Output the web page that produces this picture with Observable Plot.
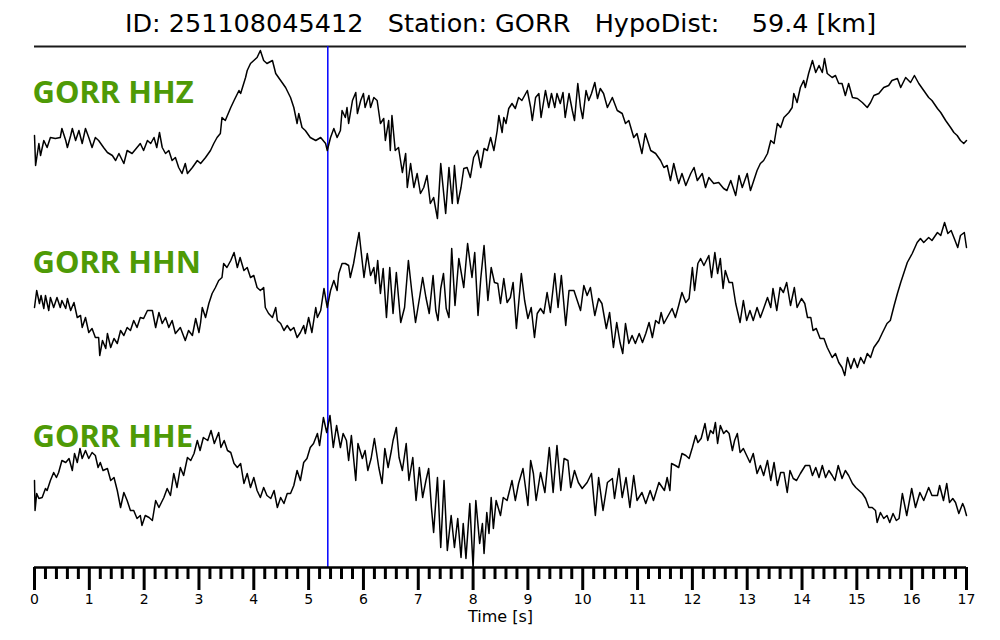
<!DOCTYPE html>
<html><head><meta charset="utf-8">
<script src="https://cdn.jsdelivr.net/npm/d3@7"></script>
<script src="https://cdn.jsdelivr.net/npm/@observablehq/plot@0.6"></script>
<style>
html,body{margin:0;padding:0;background:#fff;}
svg text{white-space:pre;}
</style></head><body><div id="chart"></div>
<script>
const title = "ID: 251108045412   Station: GORR   HypoDist:    59.4 [km]";
const channels = ["GORR HHZ", "GORR HHN", "GORR HHE"];
const pickTime = [5.35];
const xLabel = "Time [s]";
const majorTicks = [0,1,2,3,4,5,6,7,8,9,10,11,12,13,14,15,16,17];

// [time (s), amplitude (relative units)]
const hhz = [[0,-5],[0.02,-35],[0.08,-13],[0.11,-25],[0.17,-10],[0.23,-17],[0.29,-7],[0.38,-8],[0.47,-7],[0.5,2],[0.57,-10],[0.6,-17],[0.66,-5],[0.69,2],[0.75,-10],[0.81,0],[0.87,-13],[0.93,2],[0.99,-7],[1.05,-17],[1.11,-7],[1.17,-10],[1.26,-17],[1.33,-22],[1.42,-25],[1.48,-30],[1.54,-23],[1.63,-33],[1.69,-20],[1.78,-23],[1.87,-17],[1.93,-13],[1.99,-20],[2.06,-10],[2.12,-13],[2.18,-7],[2.23,-17],[2.28,-2],[2.33,-17],[2.39,-23],[2.45,-20],[2.51,-30],[2.57,-27],[2.63,-37],[2.69,-43],[2.75,-33],[2.79,-43],[2.88,-37],[2.97,-30],[3.03,-33],[3.12,-27],[3.21,-20],[3.27,-13],[3.33,-7],[3.39,-3],[3.42,13],[3.48,10],[3.58,23],[3.64,30],[3.73,40],[3.76,37],[3.85,53],[3.88,60],[3.94,67],[4,70],[4.06,73],[4.12,80],[4.18,70],[4.24,67],[4.34,70],[4.4,57],[4.49,50],[4.58,43],[4.67,33],[4.73,23],[4.79,7],[4.82,17],[4.88,3],[4.94,0],[5.03,-7],[5.13,-10],[5.22,-7],[5.31,-13],[5.34,-20],[5.4,-7],[5.46,2],[5.52,-7],[5.58,0],[5.61,20],[5.67,13],[5.7,23],[5.73,7],[5.8,30],[5.86,38],[5.89,17],[5.95,30],[6,37],[6.03,23],[6.1,35],[6.13,23],[6.19,33],[6.25,30],[6.31,7],[6.37,12],[6.4,-10],[6.46,10],[6.49,-20],[6.52,15],[6.58,-20],[6.64,-17],[6.71,-42],[6.77,-23],[6.8,-57],[6.86,-33],[6.92,-57],[6.98,-43],[7.04,-63],[7.1,-57],[7.16,-45],[7.22,-73],[7.28,-67],[7.35,-88],[7.41,-33],[7.5,-83],[7.56,-37],[7.62,-73],[7.66,-35],[7.72,-73],[7.78,-57],[7.83,-38],[7.89,-37],[7.95,-47],[8.01,-27],[8.08,-20],[8.14,-37],[8.2,-18],[8.26,-20],[8.32,-7],[8.38,-20],[8.44,0],[8.47,15],[8.53,-2],[8.56,13],[8.6,7],[8.65,22],[8.71,27],[8.77,22],[8.83,33],[8.89,30],[8.96,37],[8.99,40],[9.05,23],[9.08,10],[9.14,33],[9.2,37],[9.24,13],[9.32,40],[9.38,23],[9.43,37],[9.49,23],[9.53,37],[9.59,27],[9.64,38],[9.68,13],[9.75,37],[9.81,20],[9.85,10],[9.91,47],[9.96,23],[10,12],[10.06,40],[10.11,30],[10.16,37],[10.22,48],[10.27,32],[10.32,42],[10.38,37],[10.45,23],[10.54,33],[10.63,20],[10.72,17],[10.78,7],[10.84,10],[10.93,-7],[10.99,-3],[11.08,-23],[11.14,-3],[11.24,-20],[11.33,-23],[11.42,-30],[11.48,-37],[11.54,-35],[11.6,-50],[11.66,-33],[11.72,-47],[11.75,-53],[11.81,-43],[11.88,-55],[11.97,-43],[12.03,-37],[12.09,-50],[12.18,-43],[12.24,-57],[12.3,-47],[12.39,-53],[12.48,-52],[12.57,-58],[12.63,-60],[12.7,-50],[12.79,-65],[12.85,-45],[12.91,-57],[13,-43],[13.06,-60],[13.12,-50],[13.18,-40],[13.24,-33],[13.3,-30],[13.37,-23],[13.43,-10],[13.49,-13],[13.55,7],[13.61,3],[13.67,13],[13.76,18],[13.82,23],[13.85,37],[13.91,28],[13.97,43],[14.03,50],[14.06,43],[14.12,57],[14.19,70],[14.25,58],[14.31,65],[14.37,58],[14.41,72],[14.46,57],[14.55,53],[14.61,55],[14.67,47],[14.73,47],[14.79,35],[14.85,47],[14.92,33],[15.01,32],[15.1,28],[15.19,23],[15.25,28],[15.31,35],[15.4,37],[15.49,43],[15.58,45],[15.64,50],[15.74,52],[15.8,43],[15.89,53],[15.98,48],[16.05,55],[16.13,47],[16.22,40],[16.31,33],[16.37,30],[16.47,22],[16.53,18],[16.62,10],[16.71,3],[16.77,-2],[16.83,-5],[16.89,-10],[16.95,-13],[17,-10]];

const hhn = [[0,-7],[0.04,10],[0.09,-3],[0.12,5],[0.17,-8],[0.2,5],[0.26,-10],[0.29,3],[0.35,-7],[0.41,3],[0.47,-7],[0.5,0],[0.57,-8],[0.6,2],[0.66,-10],[0.72,-2],[0.78,-17],[0.84,-15],[0.87,-27],[0.93,-17],[0.99,-32],[1.05,-28],[1.11,-37],[1.17,-37],[1.19,-55],[1.24,-40],[1.3,-48],[1.33,-33],[1.39,-47],[1.45,-38],[1.51,-43],[1.57,-30],[1.63,-35],[1.69,-27],[1.75,-30],[1.81,-20],[1.87,-27],[1.93,-17],[1.99,-18],[2.06,-10],[2.15,-10],[2.21,-27],[2.27,-12],[2.33,-23],[2.39,-17],[2.45,-27],[2.51,-20],[2.57,-33],[2.66,-27],[2.75,-40],[2.81,-30],[2.88,-35],[2.94,-18],[3,-32],[3.03,-22],[3.06,-7],[3.12,-17],[3.18,-3],[3.24,7],[3.3,13],[3.36,20],[3.42,23],[3.45,37],[3.51,33],[3.58,40],[3.64,48],[3.7,33],[3.75,43],[3.82,30],[3.88,33],[3.94,23],[4,25],[4.06,13],[4.12,10],[4.18,13],[4.21,-7],[4.27,-13],[4.34,-17],[4.4,-7],[4.43,-20],[4.49,-23],[4.55,-30],[4.61,-25],[4.67,-30],[4.73,-27],[4.79,-37],[4.85,-32],[4.91,-25],[4.94,-33],[5,-17],[5.06,-32],[5.13,-7],[5.16,-17],[5.22,-10],[5.28,12],[5.34,-7],[5.4,10],[5.46,20],[5.52,10],[5.55,27],[5.61,37],[5.67,37],[5.73,35],[5.76,23],[5.82,37],[5.87,53],[5.92,68],[5.95,53],[6.01,23],[6.07,47],[6.13,25],[6.19,33],[6.22,17],[6.26,40],[6.31,7],[6.36,32],[6.42,-17],[6.48,33],[6.54,-13],[6.6,28],[6.68,-22],[6.75,-7],[6.82,40],[6.88,10],[6.95,-22],[7.03,5],[7.08,23],[7.14,3],[7.2,-13],[7.27,25],[7.32,-10],[7.36,-20],[7.41,12],[7.46,27],[7.51,-8],[7.56,-17],[7.61,52],[7.67,-5],[7.74,42],[7.83,13],[7.9,57],[7.98,23],[8.03,48],[8.09,-15],[8.14,22],[8.2,55],[8.27,0],[8.33,33],[8.39,18],[8.45,17],[8.5,-3],[8.56,22],[8.62,-2],[8.68,3],[8.73,18],[8.79,-28],[8.88,27],[8.94,0],[9,-18],[9.06,-7],[9.12,-37],[9.17,-13],[9.23,-8],[9.29,-13],[9.35,8],[9.41,-12],[9.49,27],[9.55,-7],[9.61,25],[9.69,-25],[9.75,10],[9.84,10],[9.9,0],[9.96,-10],[10.02,15],[10.08,5],[10.14,13],[10.22,-15],[10.29,2],[10.35,-3],[10.43,-28],[10.49,-12],[10.56,-47],[10.62,-22],[10.68,-42],[10.73,-53],[10.78,-23],[10.84,-43],[10.9,-35],[10.96,-43],[11.03,-33],[11.09,-42],[11.15,-33],[11.21,-22],[11.27,-37],[11.33,-20],[11.39,-23],[11.43,-12],[11.48,-23],[11.54,-17],[11.63,-8],[11.69,-17],[11.75,-5],[11.81,8],[11.88,-2],[11.94,2],[12,33],[12.04,10],[12.1,37],[12.15,42],[12.21,35],[12.3,45],[12.35,23],[12.41,48],[12.46,27],[12.51,42],[12.56,12],[12.6,30],[12.67,18],[12.73,18],[12.79,-3],[12.87,-22],[12.93,0],[12.99,-20],[13.05,-10],[13.11,-20],[13.18,-7],[13.24,-17],[13.3,-8],[13.37,3],[13.43,-7],[13.47,12],[13.54,-10],[13.6,13],[13.66,8],[13.72,18],[13.79,-5],[13.86,13],[13.91,-7],[13.99,2],[14.05,-3],[14.1,-17],[14.16,-17],[14.2,-30],[14.26,-28],[14.33,-38],[14.4,-38],[14.46,-47],[14.55,-57],[14.61,-53],[14.67,-62],[14.73,-67],[14.78,-75],[14.83,-57],[14.89,-68],[14.95,-58],[15.01,-67],[15.07,-57],[15.13,-63],[15.19,-53],[15.25,-57],[15.31,-47],[15.4,-40],[15.46,-33],[15.55,-23],[15.61,-20],[15.68,-5],[15.74,7],[15.8,18],[15.86,28],[15.92,38],[16.01,47],[16.1,58],[16.16,62],[16.22,58],[16.31,63],[16.37,60],[16.47,68],[16.53,65],[16.6,78],[16.66,67],[16.72,70],[16.77,63],[16.84,53],[16.89,65],[16.96,68],[17,53]];

const hhe = [[0,-10],[0.01,-40],[0.04,-23],[0.08,-28],[0.14,-27],[0.2,-18],[0.23,-20],[0.29,-10],[0.35,-2],[0.4,-7],[0.44,-2],[0.5,10],[0.57,8],[0.63,12],[0.69,0],[0.73,17],[0.78,8],[0.83,22],[0.87,12],[0.93,20],[0.99,12],[1.05,18],[1.11,15],[1.16,3],[1.2,8],[1.25,0],[1.33,2],[1.39,-10],[1.45,-7],[1.51,-20],[1.57,-37],[1.63,-22],[1.69,-30],[1.75,-40],[1.81,-40],[1.87,-48],[1.93,-45],[1.96,-55],[2.02,-45],[2.09,-47],[2.15,-50],[2.21,-30],[2.27,-37],[2.36,-27],[2.42,-18],[2.48,-25],[2.54,-3],[2.6,-17],[2.66,3],[2.72,-5],[2.79,13],[2.85,10],[2.91,17],[2.97,30],[3.02,20],[3.08,33],[3.16,30],[3.22,40],[3.28,27],[3.36,38],[3.4,23],[3.46,30],[3.52,20],[3.58,18],[3.64,7],[3.7,3],[3.76,7],[3.82,-13],[3.88,-3],[3.94,-17],[4,-7],[4.06,-20],[4.12,-27],[4.18,-17],[4.24,-25],[4.31,-28],[4.37,-20],[4.43,-37],[4.49,-27],[4.55,-33],[4.61,-23],[4.67,-23],[4.73,-15],[4.79,0],[4.85,-10],[4.91,8],[4.97,12],[5.03,23],[5.09,27],[5.16,37],[5.2,25],[5.27,53],[5.33,38],[5.39,55],[5.45,23],[5.51,45],[5.58,23],[5.63,37],[5.69,30],[5.73,10],[5.78,35],[5.86,-10],[5.9,27],[5.98,12],[6.03,20],[6.08,0],[6.14,12],[6.2,32],[6.28,3],[6.34,-13],[6.39,22],[6.45,3],[6.51,20],[6.54,30],[6.6,43],[6.65,13],[6.71,0],[6.78,27],[6.83,-10],[6.9,13],[6.96,-30],[7.02,3],[7.08,-27],[7.14,-10],[7.19,2],[7.24,-37],[7.28,-62],[7.35,-7],[7.41,-77],[7.47,-10],[7.53,-80],[7.6,-45],[7.66,-77],[7.72,-48],[7.78,-87],[7.82,-53],[7.87,-88],[7.94,-33],[8,-97],[8.05,-30],[8.12,-73],[8.17,-53],[8.2,-83],[8.25,-42],[8.29,-63],[8.33,-27],[8.37,-58],[8.42,-30],[8.5,-45],[8.55,-27],[8.62,-30],[8.71,-10],[8.77,-30],[8.83,-13],[8.91,2],[9,-35],[9.05,10],[9.1,-3],[9.15,-30],[9.23,-2],[9.31,-22],[9.39,23],[9.46,-22],[9.53,25],[9.6,-20],[9.66,12],[9.73,10],[9.78,-17],[9.85,0],[9.92,-12],[9.99,-18],[10.08,-12],[10.16,-3],[10.23,-45],[10.29,-7],[10.37,-40],[10.45,-12],[10.54,-8],[10.58,-28],[10.66,2],[10.72,-27],[10.79,-7],[10.86,-37],[10.93,-5],[10.99,-30],[11.08,-22],[11.15,-33],[11.23,-20],[11.29,-30],[11.39,-12],[11.49,-20],[11.54,-7],[11.59,-20],[11.62,7],[11.69,5],[11.75,3],[11.81,17],[11.88,15],[11.94,12],[12,23],[12.06,35],[12.1,28],[12.16,32],[12.23,47],[12.28,30],[12.33,40],[12.38,37],[12.42,48],[12.46,27],[12.51,45],[12.57,37],[12.62,40],[12.67,37],[12.73,20],[12.77,30],[12.82,37],[12.87,18],[12.93,22],[12.99,15],[13.05,8],[13.11,17],[13.18,-3],[13.24,5],[13.3,-5],[13.37,10],[13.43,-10],[13.49,8],[13.55,-15],[13.61,-2],[13.67,-2],[13.73,-22],[13.78,0],[13.84,-8],[13.9,-10],[13.97,-3],[14.06,5],[14.14,5],[14.19,-5],[14.25,3],[14.31,-7],[14.37,5],[14.43,-7],[14.49,0],[14.55,-5],[14.6,-10],[14.66,5],[14.73,-8],[14.79,0],[14.85,-5],[14.92,-13],[14.98,-17],[15.04,-20],[15.1,-23],[15.16,-28],[15.22,-37],[15.28,-37],[15.34,-40],[15.37,-52],[15.43,-42],[15.49,-48],[15.55,-45],[15.6,-52],[15.66,-43],[15.72,-50],[15.77,-48],[15.83,-23],[15.91,-45],[16,-18],[16.07,-37],[16.15,-22],[16.22,-30],[16.31,-17],[16.37,-25],[16.47,-25],[16.51,-15],[16.58,-30],[16.64,-13],[16.69,-32],[16.75,-28],[16.8,-32],[16.86,-43],[16.93,-33],[16.96,-37],[17,-45]];

// ---- layout (not data) ----
const W = 1000, H = 640;
const mTop = 46, mBottom = 73, mLeft = 34, mRight = 34;
const yTop = H - mTop - mBottom;            // y domain spans plot height
const centers = [437, 267, 97];             // vertical placement of each trace
const labelTop = [50, 50, 46];              // label top above trace center
const green = "#4e9a06";

const traces = [hhz, hhn, hhe];
const rows = traces.flatMap((tr, k) => tr.map(([t, a]) => ({channel: channels[k], t, y: centers[k] + a})));
const minorTicks = d3.range(0, 85 + 1).map(i => +(i * 0.2).toFixed(1)).filter(v => !Number.isInteger(v));

const chart = Plot.plot({
  width: W, height: H,
  marginTop: mTop, marginBottom: mBottom, marginLeft: mLeft, marginRight: mRight,
  x: {domain: [0, 17], axis: null},
  y: {domain: [0, yTop], axis: null},
  style: {fontFamily: "DejaVu Sans", background: "#fff", color: "#000", overflow: "visible"},
  marks: [
    Plot.ruleY([yTop], {stroke: "#1a1a1a", strokeWidth: 2}),
    Plot.ruleX(pickTime, {stroke: "#0000ff", strokeWidth: 1.5}),
    Plot.line(rows, {x: "t", y: "y", z: "channel", stroke: "#000", strokeWidth: 1.5, strokeLinejoin: "round"}),
    Plot.text(channels, {x: 0, y: (d, i) => centers[i] + labelTop[i], text: d => d, textAnchor: "start", lineAnchor: "top", dx: -2,
      fontFamily: "Noto Sans", fontWeight: "bold", fontSize: 31, fill: green}),
    Plot.ruleY([0], {stroke: "#000", strokeWidth: 2.5}),
    Plot.axisX({ticks: minorTicks, tickSize: 12, tickFormat: () => "", strokeWidth: 3, label: null}),
    Plot.axisX({ticks: majorTicks, tickSize: 23, tickPadding: 4, tickFormat: d => String(d), strokeWidth: 3, fontSize: 14, label: null}),
    Plot.text([xLabel], {frameAnchor: "bottom", dy: 43, lineAnchor: "top", fontSize: 16}),
    Plot.text([title], {frameAnchor: "top", dy: -33, lineAnchor: "top", fontSize: 25.5})
  ]
});
document.getElementById("chart").appendChild(chart);
</script></body></html>
